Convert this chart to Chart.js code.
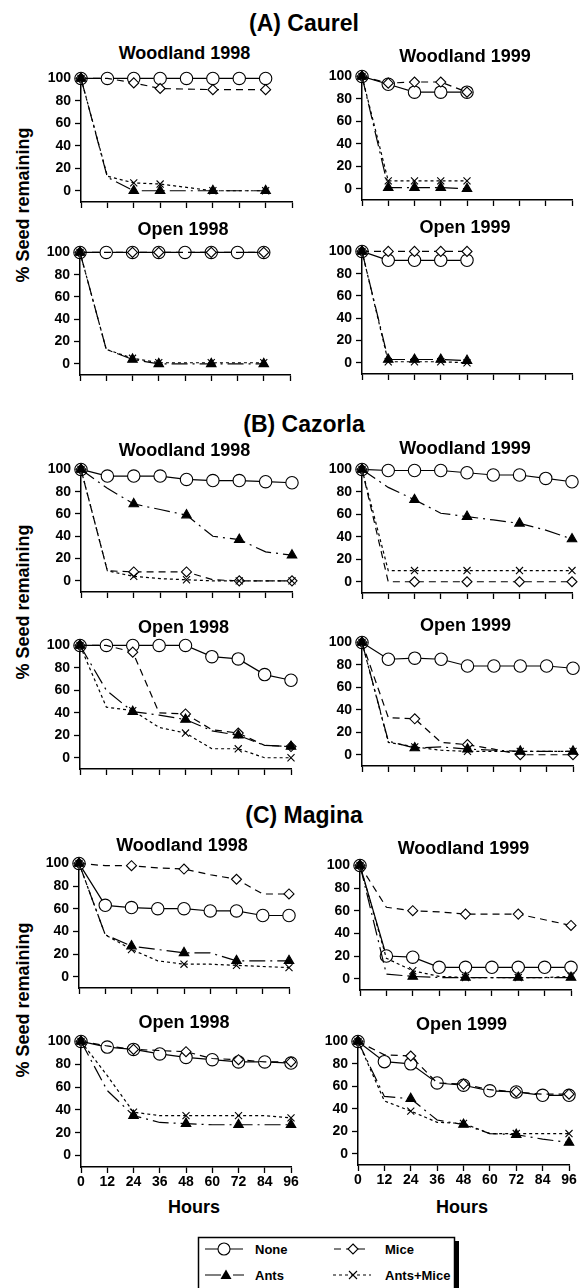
<!DOCTYPE html>
<html>
<head>
<meta charset="utf-8">
<script src="https://cdn.jsdelivr.net/npm/chart.js@4.4.1/dist/chart.umd.min.js"></script>
<style>
  body { margin: 0; background: #fff; }
  #page { position: relative; width: 586px; height: 1288px; overflow: hidden;
          font-family: "Liberation Sans", Arial, sans-serif; font-weight: bold; color: #000; }
  .t { position: absolute; transform: translate(-50%, -50%); white-space: nowrap; line-height: 1; }
  .sec { font-size: 23px; }
  .ttl { font-size: 18px; }
  .hrs { font-size: 18px; }
  .ylab { font-size: 18px; transform: translate(-50%, -50%) rotate(-90deg); }
  canvas { position: absolute; }
  #legend { position: absolute; left: 196px; top: 1235px; }
</style>
</head>
<body>
<div id="page">
  <div class="t sec" style="left:304px;top:23px">(A) Caurel</div>
  <div class="t sec" style="left:304px;top:424px">(B) Cazorla</div>
  <div class="t sec" style="left:304px;top:815px">(C) Magina</div>

  <div class="t ylab" style="left:23px;top:205px">% Seed remaining</div>
  <div class="t ylab" style="left:23px;top:602px">% Seed remaining</div>
  <div class="t ylab" style="left:23px;top:1000px">% Seed remaining</div>

  <div class="t hrs" style="left:194px;top:1207px">Hours</div>
  <div class="t hrs" style="left:462px;top:1207px">Hours</div>

  <svg id="legend" width="266" height="53" font-family="Liberation Sans, Arial, sans-serif" font-weight="bold" font-size="13">
    <rect x="258" y="6" width="5" height="50" fill="#000"/>
    <rect x="2.5" y="2.5" width="256" height="52" fill="#fff" stroke="#000" stroke-width="1.5"/>
    <line x1="9" y1="14" x2="47" y2="14" stroke="#000" stroke-width="1.2"/>
    <circle cx="28" cy="14" r="6" fill="#fff" stroke="#000" stroke-width="1.1"/>
    <text x="59" y="18.5">None</text>
    <line x1="138" y1="14" x2="173" y2="14" stroke="#000" stroke-width="1.2" stroke-dasharray="7 5"/>
    <polygon points="157,9 162,14 157,19 152,14" fill="#fff" stroke="#000" stroke-width="1.1"/>
    <text x="189" y="18.5">Mice</text>
    <line x1="9" y1="40" x2="48" y2="40" stroke="#000" stroke-width="1.2" stroke-dasharray="16 5 2 5"/>
    <polygon points="30,34.5 35.5,44 24.5,44" fill="#000"/>
    <text x="59" y="44.5">Ants</text>
    <line x1="137" y1="40" x2="175" y2="40" stroke="#000" stroke-width="1.2" stroke-dasharray="3 3"/>
    <path d="M153,36 L161,44 M161,36 L153,44" stroke="#000" stroke-width="1.1"/>
    <text x="189" y="44.5">Ants+Mice</text>
  </svg>
</div>

<script>
const HOURS = [0, 12, 24, 36, 48, 60, 72, 84, 96];
const Y_TICKS = [0, 20, 40, 60, 80, 100];
const TREATMENTS = ['None', 'Mice', 'Ants', 'Ants+Mice'];

// hours where the treatment lines carry a marker ('None' is marked on every point)
const MARKS_CAUREL_98 = [0, 24, 36, 60, 84];
const MARKS_CAUREL_99 = [0, 12, 24, 36, 48];
const MARKS_24H = [0, 24, 48, 72, 96];

// % seed remaining, one value per hour of HOURS (null = no census)
// (A) Caurel
const caurelWood98None     = [100, 100, 100, 100, 100, 100, 100, 100, null];
const caurelWood98Mice     = [100, 100, 96, 91, null, 90, null, 90, null];
const caurelWood98Ants     = [100, 12, 0, 0, null, 0, null, 0, null];
const caurelWood98AntsMice = [100, 13, 7, 6, null, 0, null, 0, null];

const caurelWood99None     = [100, 93, 86, 86, 86, null, null, null, null];
const caurelWood99Mice     = [100, 94, 95, 95, 86, null, null, null, null];
const caurelWood99Ants     = [100, 1, 1, 1, 0, null, null, null, null];
const caurelWood99AntsMice = [100, 7, 7, 7, 7, null, null, null, null];

const caurelOpen98None     = [100, 100, 100, 100, 100, 100, 100, 100, null];
const caurelOpen98Mice     = [100, 100, 100, 100, null, 100, null, 100, null];
const caurelOpen98Ants     = [100, 13, 4, 0, null, 0, null, 0, null];
const caurelOpen98AntsMice = [100, 13, 5, 1, null, 1, null, 1, null];

const caurelOpen99None     = [100, 92, 92, 92, 92, null, null, null, null];
const caurelOpen99Mice     = [100, 100, 100, 100, 100, null, null, null, null];
const caurelOpen99Ants     = [100, 3, 3, 3, 2, null, null, null, null];
const caurelOpen99AntsMice = [100, 1, 1, 1, 0, null, null, null, null];

// (B) Cazorla
const cazorlaWood98None     = [100, 94, 94, 94, 91, 90, 90, 89, 88];
const cazorlaWood98Mice     = [100, 9, 8, 8, 8, 1, 0, 0, 0];
const cazorlaWood98Ants     = [100, 83, 69, 64, 59, 40, 37, 26, 23];
const cazorlaWood98AntsMice = [100, 9, 4, 2, 1, 0, 0, 0, 0];

const cazorlaWood99None     = [100, 99, 99, 99, 97, 95, 95, 92, 89];
const cazorlaWood99Mice     = [100, 0, 0, 0, 0, 0, 0, 0, 0];
const cazorlaWood99Ants     = [100, 84, 73, 61, 58, 55, 52, 46, 38];
const cazorlaWood99AntsMice = [100, 10, 10, 10, 10, 10, 10, 10, 10];

const cazorlaOpen98None     = [100, 100, 100, 100, 100, 90, 88, 74, 69];
const cazorlaOpen98Mice     = [100, 100, 94, 40, 39, 25, 22, 11, 10];
const cazorlaOpen98Ants     = [100, 60, 41, 38, 34, 24, 20, 11, 10];
const cazorlaOpen98AntsMice = [100, 45, 42, 27, 22, 8, 8, 0, 0];

const cazorlaOpen99None     = [100, 85, 86, 85, 79, 79, 79, 79, 77];
const cazorlaOpen99Mice     = [100, 33, 32, 11, 9, 5, 0, 0, 0];
const cazorlaOpen99Ants     = [100, 12, 6, 7, 5, 4, 3, 3, 3];
const cazorlaOpen99AntsMice = [100, 11, 7, 4, 3, 3, 3, 3, 3];

// (C) Magina
const maginaWood98None     = [100, 63, 61, 60, 60, 58, 58, 54, 54];
const maginaWood98Mice     = [100, 98, 98, 96, 95, 90, 86, 73, 73];
const maginaWood98Ants     = [100, 37, 27, 24, 21, 21, 14, 14, 14];
const maginaWood98AntsMice = [100, 37, 24, 14, 11, 11, 10, 9, 8];

const maginaWood99None     = [100, 20, 19, 10, 10, 10, 10, 10, 10];
const maginaWood99Mice     = [100, 63, 60, 59, 57, 57, 57, 52, 47];
const maginaWood99Ants     = [100, 4, 2, 1, 1, 1, 1, 1, 1];
const maginaWood99AntsMice = [100, 18, 7, 2, 1, 1, 1, 1, 2];

const maginaOpen98None     = [100, 95, 93, 89, 86, 84, 82, 82, 81];
const maginaOpen98Mice     = [100, 96, 93, 92, 91, 85, 84, 82, 82];
const maginaOpen98Ants     = [100, 57, 35, 29, 28, 27, 27, 27, 27];
const maginaOpen98AntsMice = [100, 70, 38, 35, 35, 35, 35, 35, 33];

const maginaOpen99None     = [100, 82, 80, 63, 61, 56, 55, 52, 52];
const maginaOpen99Mice     = [100, 88, 87, 63, 62, 57, 55, 53, 53];
const maginaOpen99Ants     = [100, 51, 49, 30, 26, 18, 17, 13, 10];
const maginaOpen99AntsMice = [100, 47, 38, 28, 27, 18, 18, 18, 18];

// line / marker look of each treatment
const STYLE = {
  'None':      { pointStyle: 'circle',   radius: 6.2, fill: '#fff', dash: [],            order: 4 },
  'Mice':      { pointStyle: 'rectRot',  radius: 5,   fill: '#fff', dash: [7, 5],        order: 3 },
  'Ants':      { pointStyle: 'triangle', radius: 5.5, fill: '#000', dash: [16, 5, 2, 5], order: 1 },
  'Ants+Mice': { pointStyle: 'crossRot', radius: 5,   fill: '#000', dash: [3, 3],        order: 2 },
};

// box = plot area [x of hour 0, x of hour 96, y of 100 %, y of x axis]
const panels = [
  { title: 'Woodland 1998', titleY: 53,   box: [81, 292, 76, 202],    marks: MARKS_CAUREL_98,
    series: [caurelWood98None, caurelWood98Mice, caurelWood98Ants, caurelWood98AntsMice] },
  { title: 'Woodland 1999', titleY: 56,   box: [362, 572, 74, 200],   marks: MARKS_CAUREL_99,
    series: [caurelWood99None, caurelWood99Mice, caurelWood99Ants, caurelWood99AntsMice] },
  { title: 'Open 1998',     titleY: 229,  box: [80, 290, 250, 375],   marks: MARKS_CAUREL_98,
    series: [caurelOpen98None, caurelOpen98Mice, caurelOpen98Ants, caurelOpen98AntsMice] },
  { title: 'Open 1999',     titleY: 227,  box: [362, 572, 249, 374],  marks: MARKS_CAUREL_99,
    series: [caurelOpen99None, caurelOpen99Mice, caurelOpen99Ants, caurelOpen99AntsMice] },

  { title: 'Woodland 1998', titleY: 450,  box: [81, 292, 467, 592],   marks: MARKS_24H,
    series: [cazorlaWood98None, cazorlaWood98Mice, cazorlaWood98Ants, cazorlaWood98AntsMice] },
  { title: 'Woodland 1999', titleY: 448,  box: [362, 572, 467, 593],  marks: MARKS_24H,
    series: [cazorlaWood99None, cazorlaWood99Mice, cazorlaWood99Ants, cazorlaWood99AntsMice] },
  { title: 'Open 1998',     titleY: 627,  box: [80, 291, 643, 769],   marks: MARKS_24H,
    series: [cazorlaOpen98None, cazorlaOpen98Mice, cazorlaOpen98Ants, cazorlaOpen98AntsMice] },
  { title: 'Open 1999',     titleY: 625,  box: [362, 573, 640, 766],  marks: MARKS_24H,
    series: [cazorlaOpen99None, cazorlaOpen99Mice, cazorlaOpen99Ants, cazorlaOpen99AntsMice] },

  { title: 'Woodland 1998', titleY: 845,  box: [79, 289, 861, 988],   marks: MARKS_24H,
    series: [maginaWood98None, maginaWood98Mice, maginaWood98Ants, maginaWood98AntsMice] },
  { title: 'Woodland 1999', titleY: 848,  box: [360, 571, 863, 990],  marks: MARKS_24H,
    series: [maginaWood99None, maginaWood99Mice, maginaWood99Ants, maginaWood99AntsMice] },
  { title: 'Open 1998',     titleY: 1022, box: [81, 291, 1039, 1167], marks: MARKS_24H, hourLabels: true,
    series: [maginaOpen98None, maginaOpen98Mice, maginaOpen98Ants, maginaOpen98AntsMice] },
  { title: 'Open 1999',     titleY: 1024, box: [358, 569, 1039, 1165], marks: MARKS_24H, hourLabels: true,
    series: [maginaOpen99None, maginaOpen99Mice, maginaOpen99Ants, maginaOpen99AntsMice] },
];

Chart.defaults.font.family = '"Liberation Sans", Arial, sans-serif';
Chart.defaults.font.weight = 'bold';
Chart.defaults.font.size = 14;
Chart.defaults.color = '#000';

const PAD_L = 46, PAD_T = 10, PAD_R = 12, PAD_B = 26;

const makeDataset = (name, values, marks) => {
  const st = STYLE[name];
  const points = HOURS.map((h, i) => ({ x: h, y: values[i] })).filter((pt) => pt.y !== null);
  return {
    label: name,
    data: points,
    order: st.order,
    borderColor: '#000',
    borderWidth: 1.2,
    borderDash: st.dash,
    tension: 0,
    clip: false,
    pointStyle: st.pointStyle,
    pointBackgroundColor: st.fill,
    pointBorderColor: '#000',
    pointBorderWidth: 1.1,
    pointRadius: (ctx) => {
      if (!ctx.raw) return st.radius
      return (name === 'None' || marks.includes(ctx.raw.x)) ? st.radius : 0
    },
  };
};

const page = document.querySelector('#page');

panels.forEach((p) => {
  const [left, right, top, bottom] = p.box;
  const w = right - left + PAD_L + PAD_R;
  const h = bottom - top + PAD_T + PAD_B;

  const cv = document.createElement('canvas');
  cv.width = w;
  cv.height = h;
  cv.style.left = (left - PAD_L) + 'px';
  cv.style.top = (top - PAD_T) + 'px';
  cv.style.width = w + 'px';
  cv.style.height = h + 'px';
  page.appendChild(cv);

  const ttl = document.createElement('div');
  ttl.className = 't ttl';
  ttl.textContent = p.title;
  ttl.style.left = ((left + right) / 2 - 2) + 'px';
  ttl.style.top = p.titleY + 'px';
  page.appendChild(ttl);

  new Chart(cv, {
    type: 'line',
    data: { datasets: TREATMENTS.map((name, k) => makeDataset(name, p.series[k], p.marks)) },
    options: {
      responsive: false,
      animation: false,
      events: [],
      layout: { padding: { top: PAD_T, right: PAD_R, left: 0, bottom: 0 } },
      plugins: { legend: { display: false }, tooltip: { enabled: false } },
      scales: {
        x: {
          type: 'linear',
          min: 0,
          max: 96,
          afterBuildTicks: (s) => { s.ticks = HOURS.map((v) => ({ value: v })) },
          afterFit: (s) => { s.height = PAD_B },
          grid: { drawOnChartArea: false, tickLength: 6, tickColor: '#000', tickWidth: 1.3 },
          border: { color: '#000', width: 1.5 },
          ticks: { display: !!p.hourLabels, padding: 1, maxRotation: 0, autoSkip: false },
        },
        y: {
          type: 'linear',
          min: -10,
          max: 100,
          afterBuildTicks: (s) => { s.ticks = Y_TICKS.map((v) => ({ value: v })) },
          afterFit: (s) => { s.width = PAD_L },
          grid: { drawOnChartArea: false, tickLength: 6, tickColor: '#000', tickWidth: 1.3 },
          border: { color: '#000', width: 1.5 },
          ticks: { padding: 4 },
        },
      },
    },
  });
});
</script>
</body>
</html>
